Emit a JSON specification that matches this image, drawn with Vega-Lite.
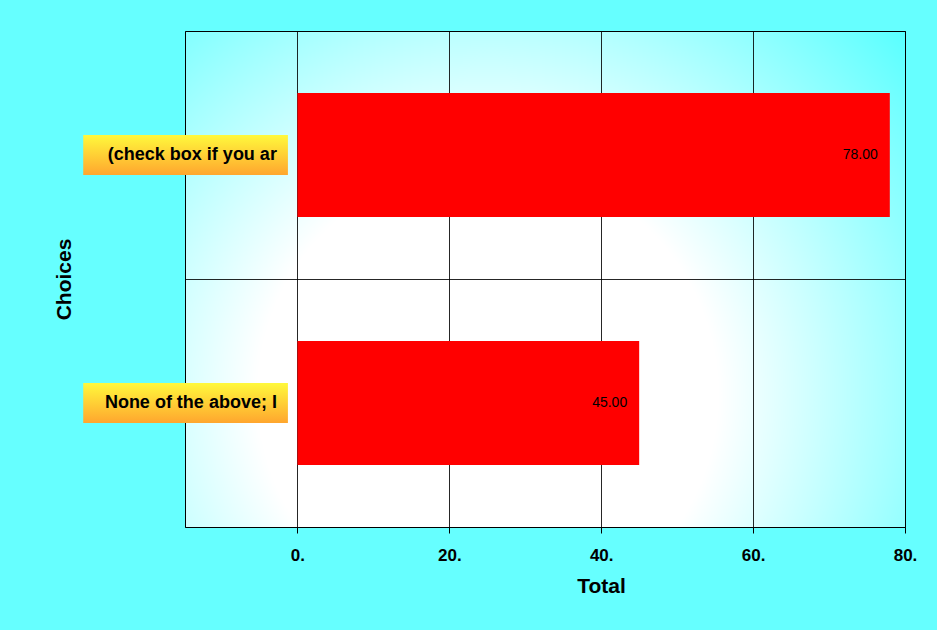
{
  "$schema": "https://vega.github.io/schema/vega-lite/v6.json",
  "width": 720,
  "height": 496,
  "autosize": {"type": "none"},
  "padding": {"left": 185, "top": 31, "right": 32, "bottom": 103},
  "background": "#66ffff",
  "config": {
    "font": "Liberation Sans",
    "view": {
      "stroke": "#000000",
      "strokeWidth": 1,
      "fill": {
        "gradient": "radial",
        "x1": 0.42, "y1": 0.66, "r1": 0,
        "x2": 0.42, "y2": 0.66, "r2": 0.8,
        "stops": [
          {"offset": 0, "color": "#ffffff"},
          {"offset": 0.4, "color": "#ffffff"},
          {"offset": 1, "color": "#4dffff"}
        ]
      }
    },
    "axisX": {
      "grid": true,
      "gridColor": "#000000",
      "gridOpacity": 0.85,
      "domainColor": "#000000",
      "tickColor": "#000000",
      "tickSize": 6,
      "labelFlush": false,
      "labelFontSize": 17,
      "labelFontWeight": "bold",
      "labelColor": "#000000",
      "labelBaseline": "alphabetic",
      "labelPadding": 27,
      "titleFontSize": 21,
      "titleFontWeight": "bold",
      "titleColor": "#000000",
      "titleX": 416,
      "titleY": 65,
      "titleAlign": "center",
      "titleBaseline": "alphabetic"
    }
  },
  "data": {
    "values": [
      {"choice": "(check box if you ar", "total": 78},
      {"choice": "None of the above; I", "total": 45}
    ]
  },
  "encoding": {
    "y": {
      "field": "choice",
      "type": "nominal",
      "sort": null,
      "scale": {"paddingInner": 0.5, "paddingOuter": 0.25},
      "axis": {
        "title": "Choices",
        "labels": false,
        "ticks": false,
        "domain": false,
        "grid": true,
        "bandPosition": -0.5,
        "gridColor": "#000000",
        "gridOpacity": 0.85,
        "titleFontSize": 21,
        "titleFontWeight": "bold",
        "titleColor": "#000000",
        "titleX": -115,
        "titleY": 248,
        "titleAlign": "center",
        "titleBaseline": "alphabetic"
      }
    }
  },
  "layer": [
    {
      "mark": {"type": "bar", "color": "#ff0000"},
      "encoding": {
        "x": {
          "field": "total",
          "type": "quantitative",
          "scale": {"domain": [-14.8, 80], "nice": false, "zero": false},
          "axis": {"values": [0, 20, 40, 60, 80], "labelExpr": "datum.value + '.'", "title": "Total"}
        }
      }
    },
    {
      "mark": {"type": "text", "align": "right", "baseline": "middle", "dx": -12, "fontSize": 14, "color": "#000000"},
      "encoding": {
        "x": {
          "field": "total",
          "type": "quantitative",
          "axis": {"values": [0, 20, 40, 60, 80], "labelExpr": "datum.value + '.'", "title": "Total"}
        },
        "text": {"field": "total", "type": "quantitative", "format": ".2f"}
      }
    },
    {
      "mark": {
        "type": "bar",
        "height": 40,
        "color": {
          "gradient": "linear",
          "x1": 0, "y1": 0, "x2": 0, "y2": 1,
          "stops": [
            {"offset": 0, "color": "#fff93c"},
            {"offset": 1, "color": "#ffa62e"}
          ]
        }
      },
      "encoding": {
        "x": {
          "datum": -28.2,
          "type": "quantitative",
          "axis": {"values": [0, 20, 40, 60, 80], "labelExpr": "datum.value + '.'", "title": "Total"}
        },
        "x2": {"datum": -1.25}
      }
    },
    {
      "mark": {"type": "text", "align": "right", "baseline": "middle", "fontSize": 18, "fontWeight": "bold", "color": "#000000"},
      "encoding": {
        "x": {
          "datum": -2.7,
          "type": "quantitative",
          "axis": {"values": [0, 20, 40, 60, 80], "labelExpr": "datum.value + '.'", "title": "Total"}
        },
        "text": {"field": "choice", "type": "nominal"}
      }
    }
  ]
}
